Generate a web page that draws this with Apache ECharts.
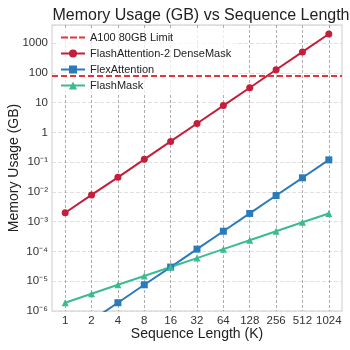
<!DOCTYPE html>
<html><head><meta charset="utf-8">
<script src="https://cdn.jsdelivr.net/npm/echarts@6/dist/echarts.min.js"></script>
<style>html,body{margin:0;padding:0;background:#fff}#c{width:350px;height:350px}</style>
</head><body><div id="c"></div>
<script>
const categories = ['1','2','4','8','16','32','64','128','256','512','1024'];
const denseMask = [0.002, 0.008, 0.031, 0.125, 0.5, 2, 8, 32, 128, 512, 2048];
const flexAttention = [1.2e-7, 4.8e-7, 1.9e-6, 7.6e-6, 3.0e-5, 1.2e-4, 4.8e-4, 1.9e-3, 7.6e-3, 0.03, 0.12];
const flashMask = [1.9e-6, 3.8e-6, 7.6e-6, 1.5e-5, 3.0e-5, 6.0e-5, 1.2e-4, 2.4e-4, 4.8e-4, 9.6e-4, 1.9e-3];
const limitGB = 80;

const sup = {'-':'⁻','0':'⁰','1':'¹','2':'²','3':'³','4':'⁴','5':'⁵','6':'⁶','7':'⁷','8':'⁸','9':'⁹'};
function fmtY(v){
  const e = Math.round(Math.log10(v));
  if (e >= 0) return String(Math.round(v));
  return '10' + String(e).split('').map(c=>sup[c]).join('');
}
const font = 'Liberation Sans, Arial, sans-serif';
const chart = echarts.init(document.getElementById('c'), null, {renderer:'canvas'});
chart.setOption({
  animation:false,
  backgroundColor:'#fff',
  title:{text:'Memory Usage (GB) vs Sequence Length', left:196, textAlign:'center', top:3,
    textStyle:{fontFamily:font, fontSize:16, fontWeight:'normal', color:'#222'}},
  grid:{left:52, right:8, top:25, bottom:39, outerBoundsMode:'none', containLabel:false,
    show:true, borderColor:'#ddd', borderWidth:1.5, backgroundColor:'transparent'},
  legend:{orient:'vertical', left:56, top:29, itemWidth:24, itemHeight:10, itemGap:5,
    padding:[3,4,3,4], backgroundColor:'rgba(255,255,255,0.75)',
    textStyle:{fontFamily:font, fontSize:11, color:'#222'},
    data:[{name:'A100 80GB Limit', icon:'path://M0,0h7v2h-7z M9,0h7v2h-7z M18,0h6v2h-6z'},
      'FlashAttention-2 DenseMask','FlexAttention','FlashMask']},
  xAxis:{type:'category', data:categories, boundaryGap:true,
    name:'Sequence Length (K)', nameLocation:'middle', nameGap:16, nameMoveOverlap:false,
    nameTextStyle:{fontFamily:font, fontSize:14, color:'#222'},
    axisLine:{show:false}, axisTick:{show:false},
    axisLabel:{fontFamily:font, fontSize:11.5, color:'#333', margin:4, interval:0},
    splitLine:{show:true, alignWithLabel:true, lineStyle:{color:'#999', type:[3,2], width:0.8}}},
  yAxis:{type:'log', logBase:10, min:1e-6, max:4100,
    name:'Memory Usage (GB)', nameLocation:'middle', nameGap:31, nameMoveOverlap:false,
    nameTextStyle:{fontFamily:font, fontSize:14, color:'#222'},
    axisLine:{show:false}, axisTick:{show:false}, splitNumber:10,
    axisLabel:{fontFamily:font, fontSize:11.5, color:'#333', margin:4, formatter:fmtY, showMaxLabel:false},
    splitLine:{show:true, lineStyle:{color:'#d8d8d8', type:[4,2], width:0.8}}},
  series:[
    {name:'A100 80GB Limit', type:'line', data:[], symbol:'none', color:'#e0353b',
      lineStyle:{type:[6,3], width:2, color:'#e0353b'},
      markLine:{silent:true, symbol:'none', label:{show:false},
        lineStyle:{type:[6,3], width:2, color:'#e0353b'}, data:[{yAxis:limitGB}]}},
    {name:'FlashAttention-2 DenseMask', type:'line', data:denseMask, color:'#c41e3a',
      symbol:'circle', symbolSize:7, lineStyle:{width:2}},
    {name:'FlexAttention', type:'line', data:flexAttention, color:'#2b7bba',
      symbol:'rect', symbolSize:7, lineStyle:{width:2}},
    {name:'FlashMask', type:'line', data:flashMask, color:'#3cba92',
      symbol:'triangle', symbolSize:7, lineStyle:{width:2}}
  ]
});
</script></body></html>
